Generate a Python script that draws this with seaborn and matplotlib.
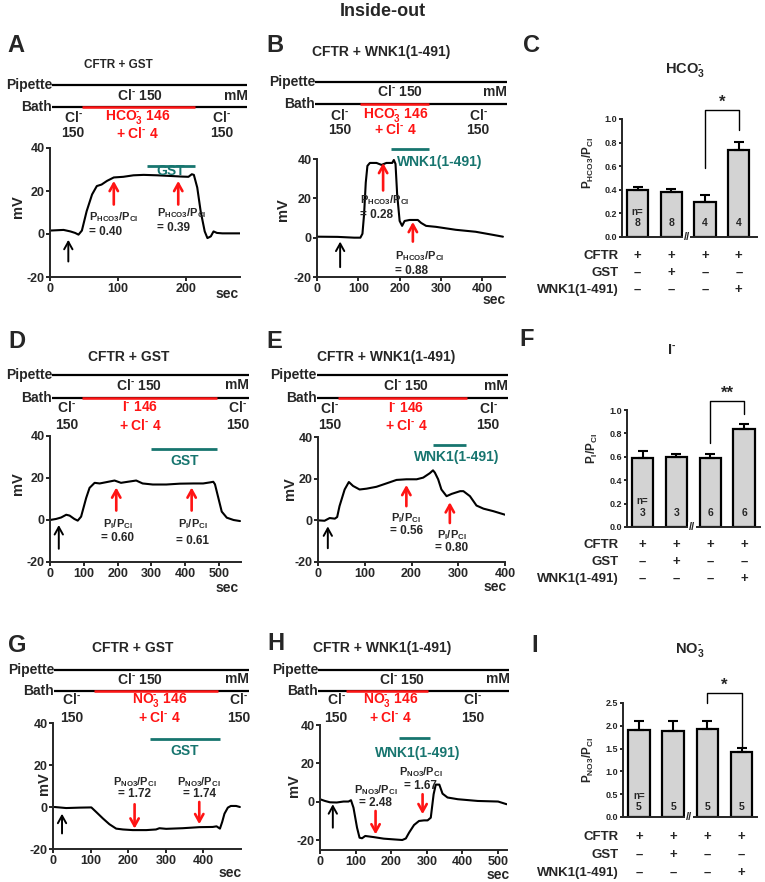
import numpy as np
import pandas as pd
import matplotlib
matplotlib.use("Agg")
import matplotlib.pyplot as plt
import matplotlib.transforms as mtransforms
import seaborn as sns

# ── Trace data (time in s, potential in mV) ──────────────────────────────────
A_t = [0, 20, 30, 37, 42, 47, 54, 62, 69, 76, 84, 94, 108, 123, 138, 158, 177,
       195, 204, 209, 212, 217, 222, 228, 232, 237, 241, 246, 254, 280]
A_mv = [1.6, 1.9, 1.2, 0.5, -0.3, 1.6, 10.6, 18.4, 22.3, 23.0, 24.7, 26.3, 26.6,
        27.3, 27.5, 27.3, 27.0, 26.7, 26.6, 27.8, 27.5, 21.6, 10.6, 1.2, -1.9,
        -1.1, 1.2, 0.5, 0.3, 0.3]

B_t = [0, 50, 90, 105, 110, 114, 118, 122, 128, 144, 156, 168, 182, 186, 190,
       194, 200, 206, 212, 224, 244, 252, 264, 288, 336, 384, 424, 450]
B_mv = [0.5, 0.4, 0.0, 0.0, 2.0, 12.0, 28.0, 36.5, 38.0, 38.0, 37.0, 38.0, 38.0,
        39.5, 37.5, 22.0, 8.5, 6.0, 8.5, 9.0, 9.0, 7.5, 6.0, 5.5, 4.0, 3.0, 1.5, 0.5]

D_t = [0, 18, 33, 48, 58, 72, 82, 92, 107, 117, 132, 147, 166, 191, 210, 230,
       255, 274, 304, 344, 384, 424, 453, 473, 483, 488, 498, 508, 523, 543, 562]
D_mv = [0.0, 0.5, 1.2, 2.5, 2.1, 0.5, -0.3, 1.6, 10.5, 15.3, 17.7, 17.4, 18.0,
        18.8, 17.7, 18.2, 18.8, 17.4, 16.9, 16.9, 17.3, 17.4, 17.4, 17.9, 18.2,
        17.0, 10.5, 4.0, 1.1, 0.0, -0.5]

E_t = [0, 14, 25, 36, 41, 46, 57, 66, 75, 89, 104, 125, 146, 168, 189, 211, 225,
       239, 246, 250, 257, 264, 275, 286, 304, 311, 325, 339, 354, 375, 400]
E_mv = [0.0, -0.2, 1.1, 0.8, 1.6, 6.8, 14.8, 18.4, 16.5, 14.8, 15.2, 16.1, 17.7,
        19.4, 19.7, 19.7, 20.5, 22.6, 24.0, 22.9, 19.7, 14.8, 11.6, 12.7, 14.0,
        14.0, 11.6, 7.1, 5.6, 4.4, 2.7]

G_t = [4, 35, 71, 102, 115, 133, 150, 168, 186, 212, 248, 274, 283, 301, 345,
       389, 425, 435, 444, 450, 456, 465, 473, 487, 497]
G_mv = [0.0, -0.5, -0.3, -0.2, -2.4, -5.5, -8.2, -10.3, -10.7, -11.0, -11.0,
        -10.7, -10.1, -10.4, -10.1, -9.6, -9.5, -9.2, -10.3, -7.1, -3.2, -0.3,
        0.5, 0.5, 0.0]

H_t = [0, 14, 28, 47, 66, 80, 87, 94, 104, 111, 118, 127, 151, 179, 208, 231,
       241, 250, 264, 278, 292, 302, 311, 319, 325, 335, 344, 358, 387, 443, 500, 524]
H_mv = [1.4, 0.5, -0.2, -0.3, 0.2, 0.2, 0.9, -3.0, -13.4, -18.6, -18.9, -17.7,
        -18.3, -19.1, -19.5, -19.8, -19.0, -16.0, -12.0, -9.9, -9.6, -9.6, -8.2,
        4.0, 9.0, 9.0, 4.3, 2.3, 1.4, 0.5, 0.2, -1.2]

# solution-exchange timings (s): pipette/bath line extent, red (test anion) period
A_line, A_red = (3, 291), (47, 213)
B_line, B_red = (-4, 459), (104, 272)
D_line, D_red = (6, 588), (94, 495)
E_line, E_red = (-3, 406), (43, 318)
G_line, G_red = (3, 520), (109, 440)
H_line, H_red = (-5, 532), (73, 304)

# protein application (s)
A_prot, B_prot, D_prot = (143, 214), (180, 272), (300, 493)
E_prot, G_prot, H_prot = (245, 316), (257, 444), (222, 309)

A_ratios, B_ratios = ["0.40", "0.39"], ["0.28", "0.88"]
D_ratios, E_ratios = ["0.60", "0.61"], ["0.56", "0.80"]
G_ratios, H_ratios = ["1.72", "1.74"], ["2.48", "1.67"]

# ── Summary bar data ─────────────────────────────────────────────────────────
HCO3_mean = [0.40, 0.38, 0.30, 0.74]
HCO3_sem = [0.02, 0.03, 0.06, 0.065]
HCO3_n = [8, 8, 4, 4]
I_mean = [0.59, 0.60, 0.59, 0.84]
I_sem = [0.06, 0.02, 0.03, 0.04]
I_n = [3, 3, 6, 6]
NO3_mean = [1.91, 1.89, 1.94, 1.43]
NO3_sem = [0.20, 0.21, 0.17, 0.08]
NO3_n = [5, 5, 5, 5]

row_names = ["CFTR", "GST", "WNK1(1-491)"]
CFTR_row = ["+", "+", "+", "+"]
GST_row = ["–", "+", "–", "–"]
WNK_row = ["–", "–", "–", "+"]

# ── Style ────────────────────────────────────────────────────────────────────
sns.set_theme(style="ticks")
plt.rcParams["font.family"] = ["Liberation Sans", "DejaVu Sans"]
plt.rcParams.update({
    "font.weight": "bold",
    "axes.unicode_minus": False,
    "mathtext.fontset": "custom",
    "mathtext.rm": "Liberation Sans:bold",
    "mathtext.it": "Liberation Sans:bold",
    "mathtext.bf": "Liberation Sans:bold",
    "mathtext.sf": "Liberation Sans:bold",
    "mathtext.default": "rm",
    "axes.linewidth": 1.4,
    "xtick.major.width": 1.4,
    "ytick.major.width": 1.4,
    "xtick.major.size": 3,
    "ytick.major.size": 3,
})
TEAL = "#17756f"
RED = "#ff1414"
GRAY = "#d3d3d3"
CL = r"Cl$^{\text{-}}$"

W, H = 765, 882
fig = plt.figure(figsize=(W / 100, H / 100), dpi=100)


def fy(py):
    return 1 - py / H


def box(l, r, t, b):
    return [l / W, 1 - b / H, (r - l) / W, (b - t) / H]


def ftext(px, py, s, **kw):
    kw.setdefault("ha", "center")
    kw.setdefault("va", "center")
    fig.text(px / W, fy(py), s, **kw)


def arrow(ax, t, tail, head, color, lw):
    ax.annotate("", xy=(t, head), xytext=(t, tail), annotation_clip=False,
                arrowprops=dict(arrowstyle="->,head_length=0.45,head_width=0.25",
                                color=color, lw=lw, shrinkA=0, shrinkB=0))


def trace_panel(p):
    ax = fig.add_axes(box(*p["box"]))
    sns.lineplot(x=p["t"], y=p["mv"], ax=ax, color="black", lw=1.5,
                 estimator=None, sort=False)
    ax.set_xlim(*p["xlim"])
    ax.set_ylim(*p["ylim"])
    ax.set_xticks(p["xticks"])
    ax.set_yticks([-20, 0, 20, 40])
    ax.tick_params(labelsize=9, pad=1)
    ax.set_xlabel("")
    ax.set_ylabel("")
    sns.despine(ax=ax)

    # solution schematic above the trace
    tr = mtransforms.blended_transform_factory(ax.transData, fig.transFigure)
    t0, t1 = p["line"]
    r0, r1 = p["red"]
    for y in (p["pip_y"], p["bath_y"]):
        ax.plot([t0, t1], [fy(y)] * 2, transform=tr, color="black", lw=1.6,
                clip_on=False, solid_capstyle="butt")
    ax.plot([r0, r1], [fy(p["bath_y"])] * 2, transform=tr, color=RED, lw=1.8,
            clip_on=False, solid_capstyle="butt")
    kw = dict(transform=tr, va="center", fontsize=10)
    ax.text(t0, fy(p["pip_y"]), "Pipette", ha="right", **kw)
    ax.text(t0, fy(p["bath_y"]), "Bath", ha="right", **kw)
    ax.text(p["cl_t"], fy(p["conc_y"]), CL + " 150", ha="center", **kw)
    ax.text(t1, fy(p["conc_y"]), "mM", ha="right", **kw)
    lt, mt, rt = p["cols"]
    y1, y2 = p["lab_y"]
    ax.text(lt, fy(y1), CL, ha="center", **kw)
    ax.text(lt, fy(y2), "150", ha="center", **kw)
    ax.text(rt, fy(y1), CL, ha="center", **kw)
    ax.text(rt, fy(y2), "150", ha="center", **kw)
    ax.text(mt, fy(y1), p["ion"], ha="center", color=RED, **kw)
    ax.text(mt, fy(y2), "+ " + CL + " 4", ha="center", color=RED, **kw)
    ax.text(p["title_t"], fy(p["title_y"]), p["title"], transform=tr,
            ha="center", va="center", fontsize=p["title_fs"])

    # protein application bar
    a0, a1 = p["prot"]
    ax.plot([a0, a1], [p["prot_y"]] * 2, color=TEAL, lw=2, clip_on=False,
            solid_capstyle="butt")
    lx, ly, lha = p["prot_lab"]
    ax.text(lx, ly, p["prot_name"], color=TEAL, ha=lha, va="center", fontsize=10)

    # arrows and permeability annotations
    arrow(ax, *p["black"], "black", 1.4)
    for (t, tail, head) in p["arrows"]:
        arrow(ax, t, tail, head, RED, 1.9)
    for (t, ya, yb), r in zip(p["ratio_xy"], p["ratios"]):
        ax.text(t, ya, p["plabel"], ha=p["ratio_ha"], va="center", fontsize=8)
        ax.text(t, yb, "= " + r, ha=p["ratio_ha"], va="center", fontsize=8.5)

    ftext(*p["letter_xy"], p["letter"], fontsize=17)
    ftext(*p["mv_xy"], "mV", fontsize=10.5, rotation=90)
    ftext(*p["sec_xy"], "sec", fontsize=10)
    return ax


P_HCO3 = r"P$_{HCO3}$/P$_{Cl}$"
P_I = r"P$_I$/P$_{Cl}$"
P_NO3 = r"P$_{NO3}$/P$_{Cl}$"

panels = [
    dict(letter="A", letter_xy=(16, 46), box=(50, 240, 148, 277), t=A_t, mv=A_mv,
         xlim=(0, 280), ylim=(-20, 40), xticks=[0, 100, 200],
         title="CFTR + GST", title_fs=8.5, title_t=101, title_y=65, pip_y=85,
         conc_y=96, bath_y=107, lab_y=(117, 133), line=A_line, red=A_red, cl_t=132,
         cols=(34, 129, 253), ion=r"HCO$_3^{\text{-}}$ 146", prot=A_prot,
         prot_y=31.7, prot_name="GST", prot_lab=(178, 29.3, "center"),
         black=(27, -12.8, -2.7), arrows=[(94, 13.7, 24.7), (189, 13.7, 24.7)],
         plabel=P_HCO3, ratio_xy=[(57, 8.0, 1.0), (158, 9.6, 2.6)],
         ratio_ha="left", ratios=A_ratios, mv_xy=(18, 207), sec_xy=(227, 294)),
    dict(letter="B", letter_xy=(275, 45), box=(317, 505, 159, 277), t=B_t, mv=B_mv,
         xlim=(0, 455), ylim=(-20, 40), xticks=[0, 100, 200, 300, 400],
         title="CFTR + WNK1(1-491)", title_fs=10, title_t=156, title_y=52,
         pip_y=82, conc_y=92, bath_y=104, lab_y=(115, 130), line=B_line, red=B_red,
         cl_t=200, cols=(54, 191, 390), ion=r"HCO$_3^{\text{-}}$ 146", prot=B_prot,
         prot_y=45, prot_name="WNK1(1-491)", prot_lab=(194, 38.5, "left"),
         black=(56, -15, -2), arrows=[(160, 24, 38.0), (232, -2, 8)],
         plabel=P_HCO3, ratio_xy=[(104, 19.2, 11.4), (188, -9.2, -17.0)],
         ratio_ha="left", ratios=B_ratios, mv_xy=(283, 210), sec_xy=(494, 300)),
    dict(letter="D", letter_xy=(17, 341), box=(50, 241, 436, 562), t=D_t, mv=D_mv,
         xlim=(0, 565), ylim=(-20, 40), xticks=[0, 100, 200, 300, 400, 500],
         title="CFTR + GST", title_fs=10, title_t=232, title_y=357, pip_y=375,
         conc_y=385, bath_y=398, lab_y=(407, 425), line=D_line, red=D_red,
         cl_t=262, cols=(49, 267, 554), ion=r"I$^{\text{-}}$ 146", prot=D_prot,
         prot_y=34, prot_name="GST", prot_lab=(399, 28, "center"),
         black=(26, -13.7, -2.4), arrows=[(196, 4.5, 15.5), (419, 4.5, 15.5)],
         plabel=P_I, ratio_xy=[(201, -1.8, -8.6), (422, -2.1, -9.8)],
         ratio_ha="center", ratios=D_ratios, mv_xy=(18, 484), sec_xy=(227, 588)),
    dict(letter="E", letter_xy=(274, 341), box=(318, 505, 437, 562), t=E_t, mv=E_mv,
         xlim=(0, 400), ylim=(-20, 40), xticks=[0, 100, 200, 300, 400],
         title="CFTR + WNK1(1-491)", title_fs=10, title_t=146, title_y=357,
         pip_y=375, conc_y=386, bath_y=398, lab_y=(408, 425), line=E_line,
         red=E_red, cl_t=189, cols=(25, 189, 364), ion=r"I$^{\text{-}}$ 146",
         prot=E_prot, prot_y=36.3, prot_name="WNK1(1-491)",
         prot_lab=(296, 30.6, "center"), black=(21, -13.4, -2.9),
         arrows=[(189, 6.8, 17), (282, -1.3, 8.7)], plabel=P_I,
         ratio_xy=[(189, 1.0, -5.0), (286, -7.3, -13.3)], ratio_ha="center",
         ratios=E_ratios, mv_xy=(290, 489), sec_xy=(495, 587)),
    dict(letter="G", letter_xy=(17, 645), box=(53, 241, 723, 849), t=G_t, mv=G_mv,
         xlim=(0, 500), ylim=(-20, 40), xticks=[0, 100, 200, 300, 400],
         title="CFTR + GST", title_fs=10, title_t=213, title_y=648, pip_y=670,
         conc_y=679, bath_y=691, lab_y=(700, 718), line=G_line, red=G_red,
         cl_t=231, cols=(49, 284, 493), ion=r"NO$_3^{\text{-}}$ 146", prot=G_prot,
         prot_y=32.6, prot_name="GST", prot_lab=(350, 26.8, "center"),
         black=(24, -12.6, -3.2), arrows=[(217, 1.3, -10.3), (389, 2.4, -8.2)],
         plabel=P_NO3, ratio_xy=[(217, 12.0, 6.0), (389, 12.0, 6.0)],
         ratio_ha="center", ratios=G_ratios, mv_xy=(44, 784), sec_xy=(230, 873)),
    dict(letter="H", letter_xy=(276, 643), box=(320, 507, 725, 850), t=H_t, mv=H_mv,
         xlim=(0, 525), ylim=(-25, 40), xticks=[0, 100, 200, 300, 400, 500],
         title="CFTR + WNK1(1-491)", title_fs=10, title_t=174, title_y=648,
         pip_y=670, conc_y=679, bath_y=691, lab_y=(700, 718), line=H_line,
         red=H_red, cl_t=231, cols=(45, 198, 428), ion=r"NO$_3^{\text{-}}$ 146",
         prot=H_prot, prot_y=33, prot_name="WNK1(1-491)",
         prot_lab=(274, 25.7, "center"), black=(36, -13.4, -1.2),
         arrows=[(156, -4.7, -16.9), (288, 4, -6.4)], plabel=P_NO3,
         ratio_xy=[(156, 6.0, -0.6), (283, 15.6, 8.4)], ratio_ha="center",
         ratios=H_ratios, mv_xy=(294, 786), sec_xy=(498, 875)),
]

for p in panels:
    trace_panel(p)


# ── Bar panels ───────────────────────────────────────────────────────────────
def bar_panel(b):
    ax = fig.add_axes(box(*b["box"]))
    df = pd.DataFrame({"grp": ["g1", "g2", "g3", "g4"], "val": b["mean"]})
    sns.barplot(data=df, x="grp", y="val", ax=ax, color=GRAY, saturation=1,
                edgecolor="black", linewidth=1.6, width=0.63, errorbar=None)
    xs = np.arange(4)
    ax.errorbar(xs, b["mean"], yerr=[np.zeros(4), b["sem"]], fmt="none",
                ecolor="black", elinewidth=1.5, capsize=3.5, capthick=1.5, zorder=1)
    ax.set_xlim(*b["xlim"])
    ax.set_ylim(*b["ylim"])
    ax.set_yticks(b["yticks"])
    ax.set_yticklabels([f"{v:.1f}" for v in b["yticks"]])
    ax.set_xticks([])
    ax.set_xlabel("")
    ax.set_ylabel("")
    ax.tick_params(labelsize=6.5, pad=1, length=2.5)
    sns.despine(ax=ax)

    ny1, ny2 = b["n_y"]
    ax.text(0, ny1, "n=", ha="center", va="center", fontsize=7)
    for i, n in enumerate(b["n"]):
        ax.text(i, ny2, str(n), ha="center", va="center", fontsize=7.5)

    bx, by = b["bracket"]
    ax.plot(bx, by, color="black", lw=1.0, clip_on=False)
    ax.text(2.5, b["star_y"], b["star"], ha="center", va="center", fontsize=12)

    brk = mtransforms.blended_transform_factory(ax.transData, ax.transAxes)
    ax.text(1.46, 0, "//", transform=brk, ha="center", va="center", fontsize=8,
            bbox=dict(fc="white", ec="none", pad=0.3), zorder=6, clip_on=False)

    tr = mtransforms.blended_transform_factory(ax.transData, fig.transFigure)
    for ry, name, row in zip(b["rows_y"], row_names, [CFTR_row, GST_row, WNK_row]):
        ftext(619, ry, name, ha="right", fontsize=9.5)
        for i, s in enumerate(row):
            ax.text(i, fy(ry), s, transform=tr, ha="center", va="center", fontsize=9.5)

    ftext(*b["title_xy"], b["title"], fontsize=10.5)
    ftext(*b["ylab_xy"], b["ylab"], fontsize=8.5, rotation=90)
    ftext(*b["letter_xy"], b["letter"], fontsize=17)


bars = [
    dict(letter="C", letter_xy=(531, 45), box=(622, 757, 119, 237), mean=HCO3_mean,
         sem=HCO3_sem, n=HCO3_n, xlim=(-0.46, 3.54), ylim=(0, 1.0),
         yticks=[0.0, 0.2, 0.4, 0.6, 0.8, 1.0], n_y=(0.215, 0.115),
         bracket=([2, 2, 3, 3], [0.585, 1.08, 1.08, 0.91]), star="*", star_y=1.14,
         rows_y=(256, 273, 290), title=r"HCO$_3^{\text{-}}$", title_xy=(685, 70),
         ylab=P_HCO3, ylab_xy=(588, 163)),
    dict(letter="F", letter_xy=(527, 339), box=(627, 760, 410, 527), mean=I_mean,
         sem=I_sem, n=I_n, xlim=(-0.46, 3.47), ylim=(0, 1.0),
         yticks=[0.0, 0.2, 0.4, 0.6, 0.8, 1.0], n_y=(0.22, 0.12),
         bracket=([2, 2, 3, 3], [0.714, 1.08, 1.08, 0.97]), star="**", star_y=1.14,
         rows_y=(545, 562, 579), title=r"I$^{\text{-}}$", title_xy=(672, 350),
         ylab=P_I, ylab_xy=(592, 448)),
    dict(letter="I", letter_xy=(535, 645), box=(623, 757, 703, 817), mean=NO3_mean,
         sem=NO3_sem, n=NO3_n, xlim=(-0.47, 3.45), ylim=(0, 2.5),
         yticks=[0.0, 0.5, 1.0, 1.5, 2.0, 2.5], n_y=(0.47, 0.22),
         bracket=([2, 2, 3, 3], [2.5, 2.72, 2.72, 1.53]), star="*", star_y=2.88,
         rows_y=(837, 855, 873), title=r"NO$_3^{\text{-}}$", title_xy=(690, 650),
         ylab=P_NO3, ylab_xy=(588, 760)),
]

for b in bars:
    bar_panel(b)

ftext(383, 12, "Inside-out", fontsize=13)

fig.savefig("out.png", dpi=100)
